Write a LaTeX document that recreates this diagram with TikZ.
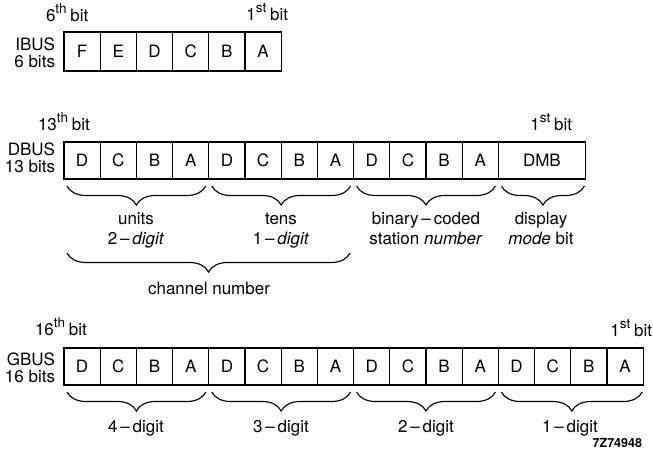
\documentclass[tikz,border=0pt]{standalone}
\usepackage{fontspec}
\setmainfont{TeX Gyre Heros}
\usetikzlibrary{decorations.pathreplacing}
\newcommand\bitlbl[2]{#1\raisebox{0.45em}{\fontsize{13.5}{13.5}\selectfont #2}\hspace{0.22em}bit}
\begin{document}
\begin{tikzpicture}[x=1pt,y=-1pt,
  every node/.style={font=\fontsize{17}{19}\selectfont, inner sep=0pt, outer sep=0pt},
  cell/.style={draw, line width=1.15pt, anchor=north west, minimum width=36.2pt, minimum height=37pt},
  lbl/.style={anchor=base east},
  txt/.style={anchor=base},
  brc/.style={decorate, decoration={brace, mirror, amplitude=19pt}, line width=1.15pt}
]
\useasboundingbox (0,0) rectangle (653,461);

% ---------- IBUS ----------
\node[anchor=base west] (ibH) at (46,21) {\bitlbl{6}{th}};
\node[anchor=base east] (ibL) at (288,20) {\bitlbl{1}{st}};
\node[lbl] (ibN) at (55,50) {IBUS};
\node[lbl] (ibB) at (55,67) {6 bits};
\foreach \t [count=\i] in {F,E,D,C,B,A}
  \node[cell, minimum height=39pt] (i\i) at ({64+(\i-1)*36.2}, 32) {\t};

% ---------- DBUS ----------
\node[anchor=base west] (dbH) at (38,130) {\bitlbl{13}{th}};
\node[anchor=base east] (dbL) at (572,130) {\bitlbl{1}{st}};
\node[lbl] (dbN) at (55,155) {DBUS};
\node[lbl] (dbB) at (55,172) {13 bits};
\foreach \t [count=\i] in {D,C,B,A,D,C,B,A,D,C,B,A}
  \node[cell] (d\i) at ({64+(\i-1)*36.2}, 142) {\t};
\node[cell, minimum width=87pt] (d13) at (498.4,142) {DMB};

\draw[brc] ([xshift=3pt,yshift=-7pt]d1.south west) -- ([xshift=-3pt,yshift=-7pt]d4.south east);
\draw[brc] ([xshift=3pt,yshift=-7pt]d5.south west) -- ([xshift=-3pt,yshift=-7pt]d8.south east);
\draw[brc] ([xshift=3pt,yshift=-7pt]d9.south west) -- ([xshift=-3pt,yshift=-7pt]d12.south east);
\draw[brc] ([xshift=3pt,yshift=-7pt]d13.south west) -- ([xshift=-1pt,yshift=-7pt]d13.south east);

\node[txt] (u1) at (136,224) {units};
\node[txt] (u2) at (136,244) {2\,–\,\textit{digit}};
\node[txt] (t1) at (281,224) {tens};
\node[txt] (t2) at (281,244) {1\,–\,\textit{digit}};
\node[txt] (s1) at (426,224) {binary\,–\,coded};
\node[txt] (s2) at (426,244) {station \textit{number}};
\node[txt] (m1) at (541,224) {display};
\node[txt] (m2) at (541,244) {\textit{mode} bit};

\draw[brc] ([xshift=3pt,yshift=-74pt]d1.south west) -- ([xshift=-3.5pt,yshift=-74pt]d8.south east);
\node[txt] (ch) at (209,294) {channel number};

% ---------- GBUS ----------
\node[anchor=base west] (gbH) at (35,335) {\bitlbl{16}{th}};
\node[anchor=base east] (gbL) at (652,336) {\bitlbl{1}{st}};
\node[lbl] (gbN) at (55,365) {GBUS};
\node[lbl] (gbB) at (55,382) {16 bits};
\foreach \t [count=\i] in {D,C,B,A,D,C,B,A,D,C,B,A,D,C,B,A}
  \node[cell] (g\i) at ({64+(\i-1)*36.2}, 348) {\t};

\draw[brc] ([xshift=3pt,yshift=-7pt]g1.south west) -- ([xshift=-3pt,yshift=-7pt]g4.south east);
\draw[brc] ([xshift=3pt,yshift=-7pt]g5.south west) -- ([xshift=-3pt,yshift=-7pt]g8.south east);
\draw[brc] ([xshift=3pt,yshift=-7pt]g9.south west) -- ([xshift=-3pt,yshift=-7pt]g12.south east);
\draw[brc] ([xshift=3pt,yshift=-7pt]g13.south west) -- ([xshift=-1pt,yshift=-7pt]g16.south east);

\node[txt] (q4) at (136,432) {4\,–\,digit};
\node[txt] (q3) at (281,432) {3\,–\,digit};
\node[txt] (q2) at (426,432) {2\,–\,digit};
\node[txt] (q1) at (570,432) {1\,–\,digit};

\node[anchor=base east, font=\fontsize{12.5}{13}\selectfont\bfseries] (code) at (642,447) {7Z74948};
\end{tikzpicture}
\end{document}
